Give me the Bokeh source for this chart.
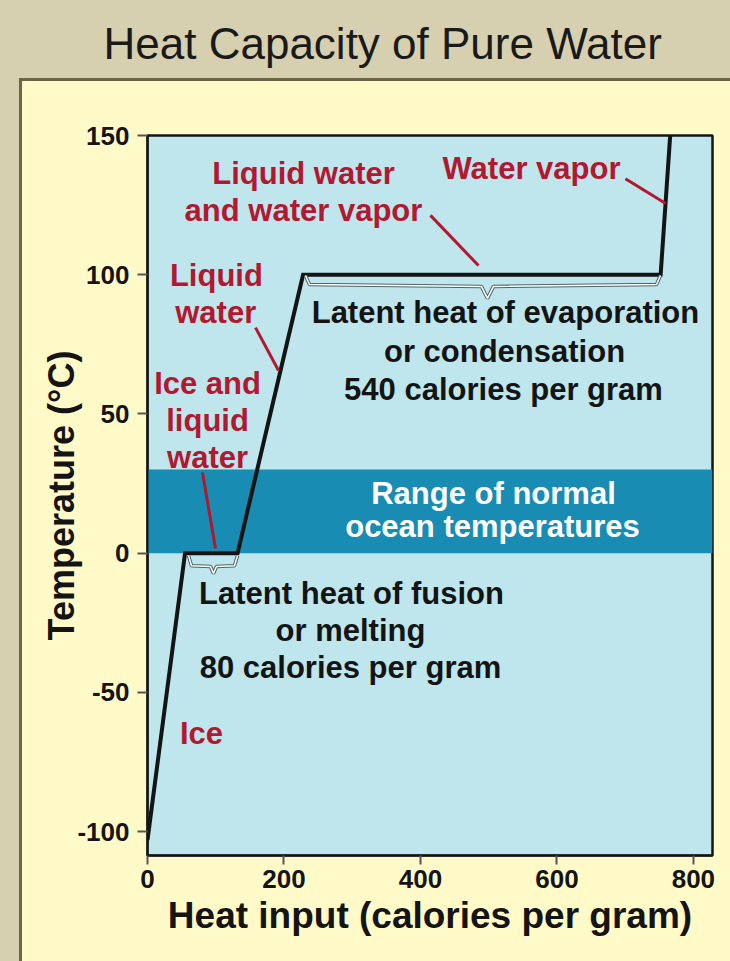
from bokeh.plotting import figure
from bokeh.models import BoxAnnotation, FixedTicker, Range1d, Title
from bokeh.core.properties import value
from bokeh.embed import file_html
from bokeh.resources import INLINE

# ---------------- data ----------------
heat_input = [0, 55, 132, 228, 752, 766]          # calories per gram
temperature = [-103, 0, 0, 100, 100, 150]         # degrees C
x_ticks = [0, 200, 400, 600, 800]
y_ticks = [-100, -50, 0, 50, 100, 150]
y_tick_labels = ["-100", "-50", "0", "50", "100", "150"]
ocean_low = 0
ocean_high = 30

title_text = "Heat Capacity of Pure Water"
x_label = "Heat input (calories per gram)"
y_label = "Temperature (°C)"

red_text = ["Water vapor", "Liquid water", "and water vapor", "Liquid", "water",
            "Ice and", "liquid", "water", "Ice"]
red_x = [562.7, 228.6, 228.6, 101.0, 100.0, 88.0, 88.0, 88.0, 79.1]
red_y = [138.1, 136.3, 123.0, 99.7, 86.4, 60.9, 47.6, 34.3, -64.8]

black_text = ["Latent heat of evaporation", "or condensation", "540 calories per gram",
              "Latent heat of fusion", "or melting", "80 calories per gram"]
black_x = [524.6, 523.2, 521.7, 299.0, 297.5, 297.5]
black_y = [86.3, 72.4, 58.8, -14.5, -27.8, -41.1]

white_text = ["Range of normal", "ocean temperatures"]
white_x = [507.0, 505.6]
white_y = [21.4, 9.4]

pointer_x0 = [700.4, 414.7, 158.3, 80.6]
pointer_y0 = [134.5, 121.3, 81.0, 29.0]
pointer_x1 = [759.4, 485.0, 192.0, 99.6]
pointer_y1 = [125.6, 103.3, 65.6, 1.7]

brace_xs = [[231.5, 237.4, 489.4, 498.2, 507.0, 745.9, 751.8],
            [60.1, 64.5, 92.3, 96.7, 101.1, 127.5, 131.9]]
brace_ys = [[99.7, 96.5, 95.8, 91.5, 95.8, 96.5, 99.7],
            [-0.9, -4.5, -4.8, -7.3, -4.8, -4.5, -0.9]]

# ---------------- style ----------------
FONT = "Liberation Sans"
TAN = "#d7d0b0"
YELLOW = "#fffac8"
EDGE = "#6d6646"
SKY = "#bee6ec"
BAND = "#188cb2"
RED = "#b21830"
INK = "#141414"

p = figure(width=730, height=961,
           x_range=Range1d(0, 828), y_range=Range1d(-108.6, 150),
           output_backend="svg", toolbar_location=None,
           min_border_left=147, min_border_right=18,
           min_border_top=135, min_border_bottom=106)

# page-like backdrop: tan strip with a bordered yellow panel (painted behind the canvas)
p.border_fill_color = TAN
p.border_fill_alpha = 0.0
p.styles = {
    "background": (
        f"linear-gradient({YELLOW},{YELLOW}) 22px 81px / 708px 880px no-repeat, "
        f"linear-gradient({EDGE},{EDGE}) 19px 78px / 711px 883px no-repeat, "
        f"{TAN}"
    )
}
p.background_fill_color = SKY
p.outline_line_color = INK
p.outline_line_width = 2.5
p.grid.grid_line_color = None

band = BoxAnnotation(bottom=ocean_low, top=ocean_high, fill_color=BAND, fill_alpha=1.0,
                     line_color=None, level="underlay")
p.add_layout(band)

# curve
p.line(heat_input, temperature, line_color=INK, line_width=4, line_join="miter")

# braces
p.multi_line(brace_xs, brace_ys, line_color="#50626a", line_width=3.5)
p.multi_line(brace_xs, brace_ys, line_color="white", line_width=1.5)

# pointers
p.segment(pointer_x0, pointer_y0, pointer_x1, pointer_y1, line_color=RED, line_width=3)

# labels
common = dict(text_font=value(FONT), text_font_style="bold", text_font_size="31px",
              text_align="center", text_baseline="middle")
p.text(red_x, red_y, text=red_text, text_color=RED, **common)
p.text(black_x, black_y, text=black_text, text_color=INK, **common)
p.text(white_x, white_y, text=white_text, text_color="white", **common)

# axes
p.xaxis.ticker = FixedTicker(ticks=x_ticks)
p.yaxis.ticker = FixedTicker(ticks=y_ticks)
p.yaxis.major_label_overrides = dict(zip(y_ticks, y_tick_labels))
for ax in (p.xaxis, p.yaxis):
    ax.axis_line_color = INK
    ax.axis_line_width = 2
    ax.major_tick_line_color = "#555555"
    ax.major_tick_line_width = 2
    ax.major_tick_in = 0
    ax.minor_tick_line_color = None
    ax.major_label_text_font = FONT
    ax.major_label_text_font_style = "bold"
    ax.major_label_text_font_size = "26px"
    ax.major_label_text_color = INK
    ax.axis_label_text_font = FONT
    ax.axis_label_text_font_style = "bold"
    ax.axis_label_text_color = INK
p.xaxis.major_tick_out = 9
p.yaxis.major_tick_out = 10
p.xaxis.major_label_standoff = 5
p.yaxis.major_label_standoff = 8
p.xaxis.axis_label = x_label
p.yaxis.axis_label = y_label
p.xaxis.axis_label_text_font_size = "37px"
p.yaxis.axis_label_text_font_size = "36px"
p.xaxis.axis_label_standoff = 4
p.yaxis.axis_label_standoff = -8

# title: an empty spacer next to the frame, then the heading further up
spacer = Title(text=" ", text_font_size="10px", standoff=50)
heading = Title(text=title_text, text_font=FONT, text_font_size="44px",
                text_font_style="normal", text_color="#1a1a1a",
                align="left", offset=-44, standoff=10)
p.add_layout(spacer, "above")
p.add_layout(heading, "above")

open("out.html", "w").write(file_html(p, INLINE))
